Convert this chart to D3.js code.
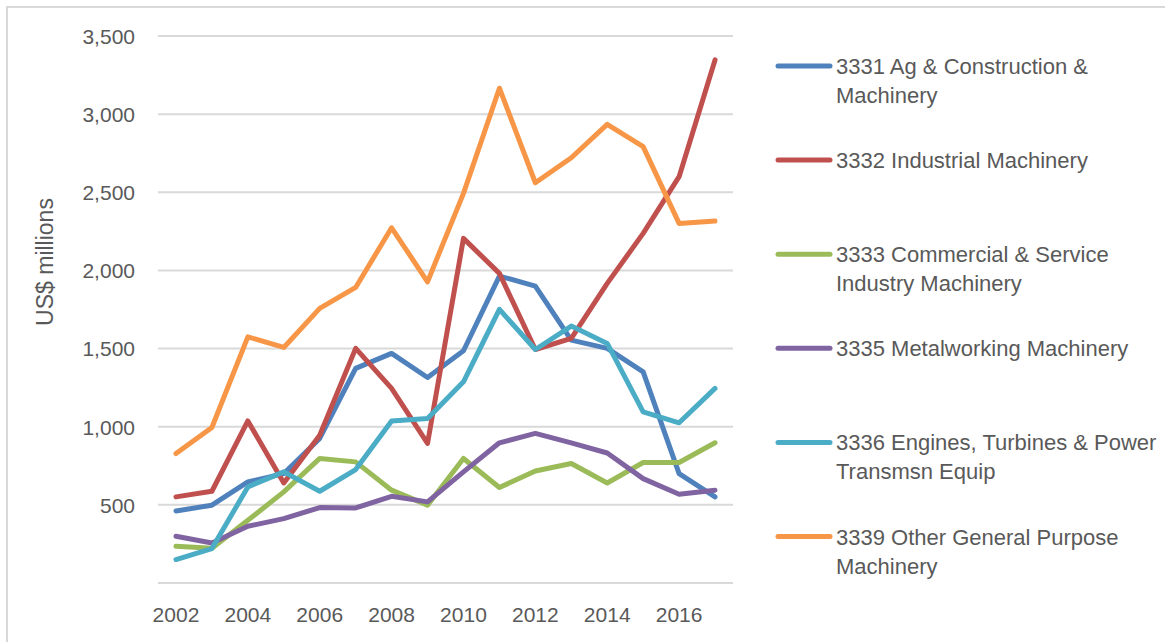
<!DOCTYPE html>
<html>
<head>
<meta charset="utf-8">
<script src="https://cdn.jsdelivr.net/npm/d3@7"></script>
<style>
  html, body { margin: 0; padding: 0; background: #fff; }
  svg { display: block; }
  text { font-family: "Liberation Sans", Arial, sans-serif; fill: #595959; }
</style>
</head>
<body>
<svg id="chart" width="1165" height="642"></svg>
<script>
// ---- data ----
const years = [2002,2003,2004,2005,2006,2007,2008,2009,2010,2011,2012,2013,2014,2015,2016,2017];
const xTickLabels = ["2002","2004","2006","2008","2010","2012","2014","2016"];
const yTicks = [500,1000,1500,2000,2500,3000,3500];
const seriesNames = [
  "3331 Ag & Construction & Machinery",
  "3332 Industrial Machinery",
  "3333 Commercial & Service Industry Machinery",
  "3335 Metalworking Machinery",
  "3336 Engines, Turbines & Power Transmsn Equip",
  "3339 Other General Purpose Machinery"
];
const ag          = [461, 498, 647, 700, 925, 1373, 1469, 1315, 1486, 1964, 1900, 1554, 1501, 1351, 700, 551];
const industrial  = [551, 587, 1037, 640, 945, 1501, 1245, 893, 2205, 1981, 1494, 1565, 1917, 2237, 2600, 3347];
const commercial  = [235, 222, 401, 583, 797, 775, 594, 498, 797, 611, 717, 765, 640, 771, 771, 897];
const metalwork   = [299, 256, 363, 412, 483, 480, 555, 519, 711, 897, 957, 897, 832, 668, 568, 594];
const engines     = [150, 220, 615, 711, 587, 726, 1037, 1053, 1287, 1751, 1494, 1644, 1533, 1095, 1025, 1245];
const otherGen    = [828, 995, 1575, 1507, 1757, 1891, 2273, 1927, 2493, 3166, 2561, 2721, 2935, 2792, 2301, 2316];
const seriesValues = [ag, industrial, commercial, metalwork, engines, otherGen];
const colors = ["#4F81BD", "#C0504D", "#9BBB59", "#8064A2", "#4BACC6", "#F79646"];

// ---- layout ----
const svg = d3.select("#chart");
const plot = { left: 158, right: 733, top: 36, bottom: 583 };

// chart border (only top/left visible in reference)
svg.append("rect")
  .attr("x", 7).attr("y", 7).attr("width", 1200).attr("height", 700)
  .attr("fill", "none").attr("stroke", "#D9D9D9").attr("stroke-width", 2);

const x = d3.scaleBand().domain(years).range([plot.left, plot.right]).paddingInner(0).paddingOuter(0);
const xc = d => x(d) + x.bandwidth() / 2;
const y = d3.scaleLinear().domain([0, 3500]).range([plot.bottom, plot.top]);

// gridlines (including baseline at 0)
const grid = svg.append("g");
grid.selectAll("line").data([0].concat(yTicks)).join("line")
  .attr("x1", plot.left).attr("x2", plot.right)
  .attr("y1", d => y(d)).attr("y2", d => y(d))
  .attr("stroke", "#D9D9D9").attr("stroke-width", 2);

// y axis labels
const yAxis = d3.axisLeft(y).tickValues(yTicks).tickSize(0).tickPadding(0)
  .tickFormat(d3.format(","));
const gy = svg.append("g").attr("transform", `translate(${plot.left - 23},0)`).call(yAxis);
gy.select(".domain").remove();
gy.selectAll("text").attr("font-size", 21).attr("fill", "#595959")
  .attr("font-family", "'Liberation Sans', Arial, sans-serif").attr("dy", "0.35em");

// x axis labels
const xAxis = d3.axisBottom(x).tickValues(years.filter(yv => xTickLabels.includes(String(yv))))
  .tickSize(0).tickPadding(0).tickFormat(d => String(d));
const gx = svg.append("g").attr("transform", `translate(0,${plot.bottom + 24})`).call(xAxis);
gx.select(".domain").remove();
gx.selectAll("text").attr("font-size", 21).attr("fill", "#595959")
  .attr("font-family", "'Liberation Sans', Arial, sans-serif").attr("dy", "0.71em");

// y axis title
svg.append("text")
  .attr("transform", "translate(53,262) rotate(-90)")
  .attr("text-anchor", "middle")
  .attr("font-size", 23)
  .text("US$ millions");

// lines
const line = d3.line().x((d, i) => xc(years[i])).y(d => y(d));
svg.append("g").selectAll("path").data(seriesValues).join("path")
  .attr("d", d => line(d))
  .attr("fill", "none")
  .attr("stroke", (d, i) => colors[i])
  .attr("stroke-width", 5)
  .attr("stroke-linejoin", "round")
  .attr("stroke-linecap", "round");

// legend
const legend = svg.append("g");
const legTop = 66, legStep = 94.1, maxW = 335;
seriesNames.forEach((name, i) => {
  const ly = legTop + i * legStep;
  legend.append("line")
    .attr("x1", 778).attr("x2", 830).attr("y1", ly).attr("y2", ly)
    .attr("stroke", colors[i]).attr("stroke-width", 5).attr("stroke-linecap", "round");
  const t = legend.append("text").attr("x", 836).attr("y", ly + 8).attr("font-size", 22);
  const words = name.split(" ");
  let lineWords = [], lineNo = 0;
  let tspan = t.append("tspan").attr("x", 836).attr("dy", 0);
  words.forEach(w => {
    lineWords.push(w);
    tspan.text(lineWords.join(" "));
    if (tspan.node().getComputedTextLength() > maxW && lineWords.length > 1) {
      lineWords.pop();
      tspan.text(lineWords.join(" "));
      lineWords = [w];
      lineNo++;
      tspan = t.append("tspan").attr("x", 836).attr("dy", 29).text(w);
    }
  });
});
</script>
</body>
</html>
